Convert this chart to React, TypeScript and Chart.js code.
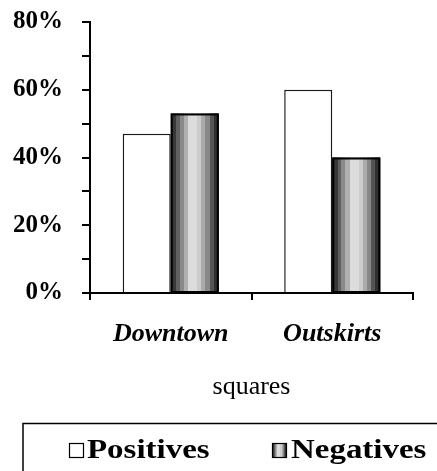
import React, { useEffect, useRef } from "react";
import { Chart, registerables } from "chart.js";

Chart.register(...registerables);

const categories = ["Downtown", "Outskirts"];
const seriesNames = ["Positives", "Negatives"];
const positives = [47, 60];
const negatives = [53, 40];
const yTicks = [0, 20, 40, 60, 80];
const xTitle = "squares";

const FONT = "'Liberation Serif', 'Times New Roman', serif";

// banded "cylinder" shading for the Negatives series
const bands: [number, number, string][] = [
  [0.0, 0.11, "#383838"],
  [0.11, 0.19, "#606060"],
  [0.19, 0.27, "#8a8a8a"],
  [0.27, 0.36, "#b0b0b0"],
  [0.36, 0.55, "#dcdcdc"],
  [0.55, 0.64, "#cccccc"],
  [0.64, 0.72, "#aaaaaa"],
  [0.72, 0.81, "#888888"],
  [0.81, 0.9, "#555555"],
  [0.9, 1.0, "#303030"],
];

function bandGradient(ctx: CanvasRenderingContext2D, x0: number, x1: number) {
  const g = ctx.createLinearGradient(x0, 0, x1, 0);
  bands.forEach(([a, b, c]) => {
    g.addColorStop(a, c);
    g.addColorStop(Math.max(a, b - 0.0001), c);
  });
  return g;
}

const shadePlugin = {
  id: "shade",
  afterDatasetsDraw(chart: any) {
    const ctx = chart.ctx as CanvasRenderingContext2D;
    const meta = chart.getDatasetMeta(1);
    meta.data.forEach((el: any) => {
      const { x, y, base, width } = el.getProps(["x", "y", "base", "width"], true);
      const left = x - width / 2;
      ctx.save();
      ctx.fillStyle = bandGradient(ctx, left, left + width);
      ctx.fillRect(left, y, width, base - y);
      ctx.strokeStyle = "#000";
      ctx.lineWidth = 2;
      ctx.strokeRect(left + 1, y + 1, width - 2, base - y - 1);
      ctx.restore();
    });
  },
};

const legendPlugin = {
  id: "customLegend",
  afterDraw(chart: any) {
    const ctx = chart.ctx as CanvasRenderingContext2D;
    ctx.save();
    ctx.strokeStyle = "#000";
    ctx.lineWidth = 1.5;
    ctx.strokeRect(23, 423.5, 460, 100);
    const items = [
      { box: 69, text: 87, shaded: false },
      { box: 272, text: 291, shaded: true },
    ];
    items.forEach((it, i) => {
      const bx = it.box;
      const by = 443;
      const s = 15;
      ctx.fillStyle = it.shaded ? bandGradient(ctx, bx, bx + s) : "#fff";
      ctx.fillRect(bx, by, s, s);
      ctx.strokeStyle = "#000";
      ctx.lineWidth = 1.2;
      ctx.strokeRect(bx + 0.5, by + 0.5, s - 1, s - 1);
      ctx.save();
      ctx.fillStyle = "#000";
      ctx.font = `bold 27px ${FONT}`;
      ctx.textBaseline = "alphabetic";
      ctx.textAlign = "left";
      ctx.translate(it.text, 458);
      ctx.scale(1.22, 1);
      ctx.fillText(seriesNames[i], 0, 0);
      ctx.restore();
    });
    ctx.restore();
  },
};

export default function App() {
  const ref = useRef<HTMLCanvasElement | null>(null);
  useEffect(() => {
    if (!ref.current) return;
    const chart = new Chart(ref.current, {
      type: "bar",
      data: {
        labels: categories,
        datasets: [
          {
            label: seriesNames[0],
            data: positives,
            backgroundColor: "#ffffff",
            borderColor: "#1a1a1a",
            borderWidth: 1.5,
            categoryPercentage: 0.595,
            barPercentage: 1,
          },
          {
            label: seriesNames[1],
            data: negatives,
            backgroundColor: "#999999",
            borderColor: "#000000",
            borderWidth: 2,
            categoryPercentage: 0.595,
            barPercentage: 1,
          },
        ],
      },
      options: {
        animation: false,
        responsive: false,
        events: [],
        layout: { padding: { left: 0, right: 24, top: 22, bottom: 48 } },
        plugins: {
          legend: { display: false },
          tooltip: { enabled: false },
        },
        scales: {
          x: {
            afterFit: (s: any) => {
              s.height = 130;
            },
            grid: {
              offset: true,
              drawOnChartArea: false,
              drawTicks: true,
              tickLength: 7,
              color: "#000",
              lineWidth: 2,
            },
            border: { display: true, color: "#000", width: 2 },
            ticks: {
              color: "#000",
              padding: 19,
              font: { family: FONT, size: 26, weight: "bold", style: "italic" },
            },
            title: {
              display: true,
              text: xTitle,
              color: "#000",
              font: { family: FONT, size: 26, weight: "normal" },
              padding: { top: 0, bottom: 20 },
            },
          },
          y: {
            min: 0,
            max: 80,
            afterFit: (s: any) => {
              s.width = 90;
              s.paddingTop = 10;
              s.paddingBottom = 10;
            },
            grid: {
              drawOnChartArea: false,
              drawTicks: true,
              tickLength: 8,
              color: "#000",
              lineWidth: 2,
            },
            border: { display: true, color: "#000", width: 2 },
            ticks: {
              stepSize: 10,
              autoSkip: false,
              color: "#000",
              padding: 19,
              font: { family: FONT, size: 25, weight: "bold" },
              callback: (v: any) => (yTicks.includes(Number(v)) ? `${v}%` : ""),
            },
          },
        },
      },
      plugins: [shadePlugin, legendPlugin],
    });
    return () => chart.destroy();
  }, []);
  return (
    <div style={{ position: "fixed", left: 0, top: 0, width: 437, height: 471, background: "#fff" }}>
      <canvas ref={ref} width={437} height={471} />
    </div>
  );
}
